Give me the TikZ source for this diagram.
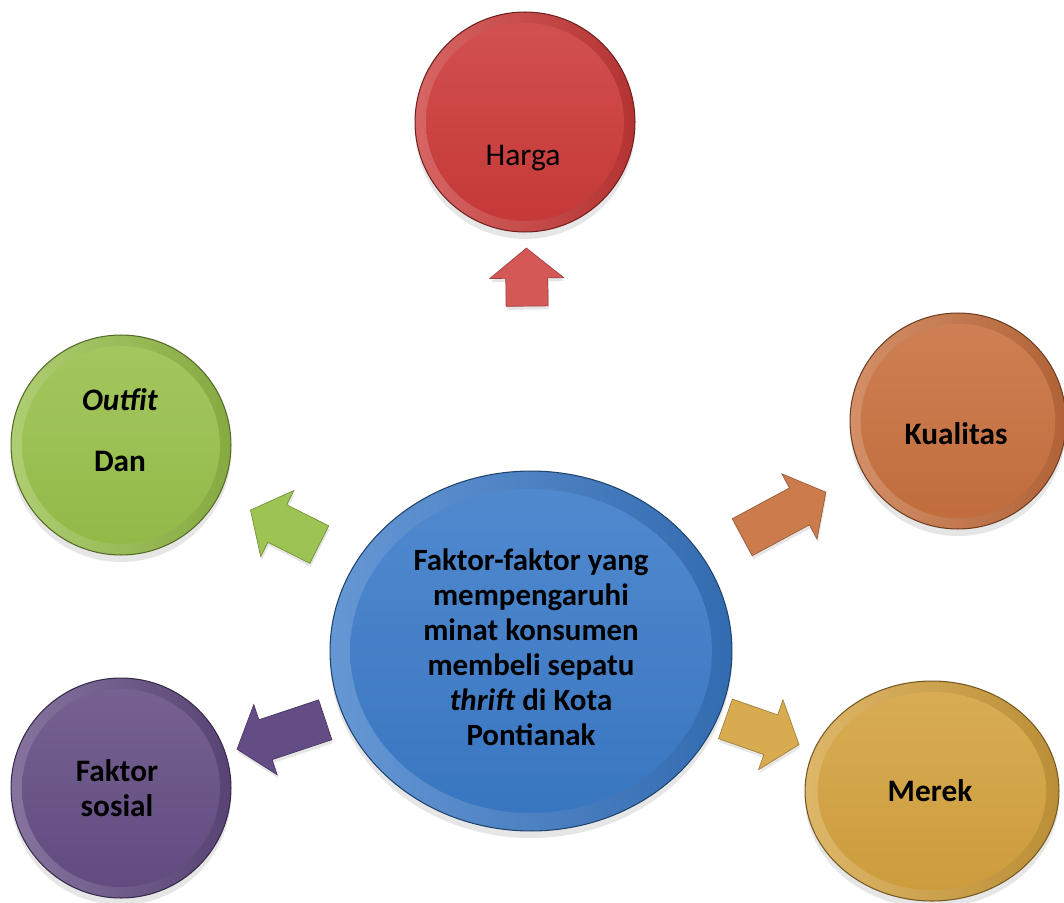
\documentclass[tikz,border=0pt]{standalone}
\usepackage{fontspec}
\setmainfont{Carlito}
\usetikzlibrary{shapes.geometric,calc,shadows}

\definecolor{hargared}{RGB}{204,58,56}
\definecolor{outfitgreen}{RGB}{152,192,74}
\definecolor{kualorange}{RGB}{200,112,62}
\definecolor{sosialpurple}{RGB}{100,77,132}
\definecolor{merekgold}{RGB}{212,162,62}
\definecolor{centreblue}{RGB}{58,122,200}

\tikzset{
	ball/.style={circle,inner sep=0pt,minimum size=4.4cm,draw=#1!55!black,line width=0.6pt,
		left color=#1!78!white,right color=#1!88!black,
		drop shadow={opacity=0.2,shadow xshift=0pt,shadow yshift=-4pt},
		path picture={\shade[top color=#1!88!white,bottom color=#1!96!black]
			let \p1=(path picture bounding box.north east),\p2=(path picture bounding box.center)
			in (\p2) ellipse ({0.9*(\x1-\x2)} and {0.9*(\y1-\y2)});}},
	oval/.style={ball=#1,ellipse},
	lbl/.style={font=\fontsize{17.8}{20}\selectfont\bfseries,align=center},
}

% block arrow from node #1 towards node #2, tail and tip distances #3, #4
\newcommand{\blockarrow}[5]{%
	\coordinate (ba-t) at ($(#1)!#3!(#2)$);
	\coordinate (ba-h) at ($(#1)!#4!(#2)$);
	\coordinate (ba-m) at ($(ba-h)!0.6cm!(ba-t)$);
	\filldraw[fill=#5,draw=#5!75!black,line width=0.4pt,
		drop shadow={opacity=0.2,shadow xshift=0.5pt,shadow yshift=-2pt}]
		($(ba-t)!0.42cm!90:(ba-h)$) -- ($(ba-m)!0.42cm!90:(ba-h)$) -- ($(ba-m)!0.74cm!90:(ba-h)$)
		-- (ba-h) -- ($(ba-m)!0.74cm!-90:(ba-h)$) -- ($(ba-m)!0.42cm!-90:(ba-h)$)
		-- ($(ba-t)!0.42cm!-90:(ba-h)$) -- cycle;
}

\begin{document}
\begin{tikzpicture}[x=0.02cm,y=-0.02cm]
		\useasboundingbox (0,0) rectangle (1064,902);

		\node[ball=hargared] (harga) at (525,122) {};
		\node[ball=outfitgreen] (outfit) at (121,445) {};
		\node[ball=kualorange,minimum size=4.32cm] (kualitas) at (958,421) {};
		\node[ball=sosialpurple] (sosial) at (121,788) {};
		\node[oval=merekgold,minimum width=5.08cm,minimum height=4.4cm] (merek) at (932,791) {};
		\node[oval=centreblue,minimum width=8.04cm,minimum height=7.2cm] (centre) at (531,651) {};

		\node[lbl,font=\fontsize{18}{21}\selectfont] (harga-txt) at (523,158) {Harga};
		\node[lbl] (outfit-txt) at (120,430) {\textit{Outfit}\\[15pt]Dan};
		\node[lbl] (kualitas-txt) at (956,434) {Kualitas};
		\node[lbl] (sosial-txt) at (117,788) {Faktor\\sosial};
		\node[lbl] (merek-txt) at (930,791) {Merek};
		\node[lbl,font=\fontsize{17.6}{19.9}\selectfont\bfseries] (centre-txt) at (531,647)
			{Faktor-faktor yang\\mempengaruhi\\minat konsumen\\membeli sepatu\\\textit{thrift} di Kota\\Pontianak};

		\blockarrow{centre}{harga}{6.9cm}{8.06cm}{hargared!85!white}
		\blockarrow{centre}{outfit}{4.74cm}{6.28cm}{outfitgreen!95!white}
		\blockarrow{centre}{kualitas}{4.8cm}{6.7cm}{kualorange!92!white}
		\blockarrow{centre}{sosial}{4.34cm}{6.2cm}{sosialpurple}
		\blockarrow{centre}{merek}{4.12cm}{5.68cm}{merekgold!90!white}
\end{tikzpicture}
\end{document}
